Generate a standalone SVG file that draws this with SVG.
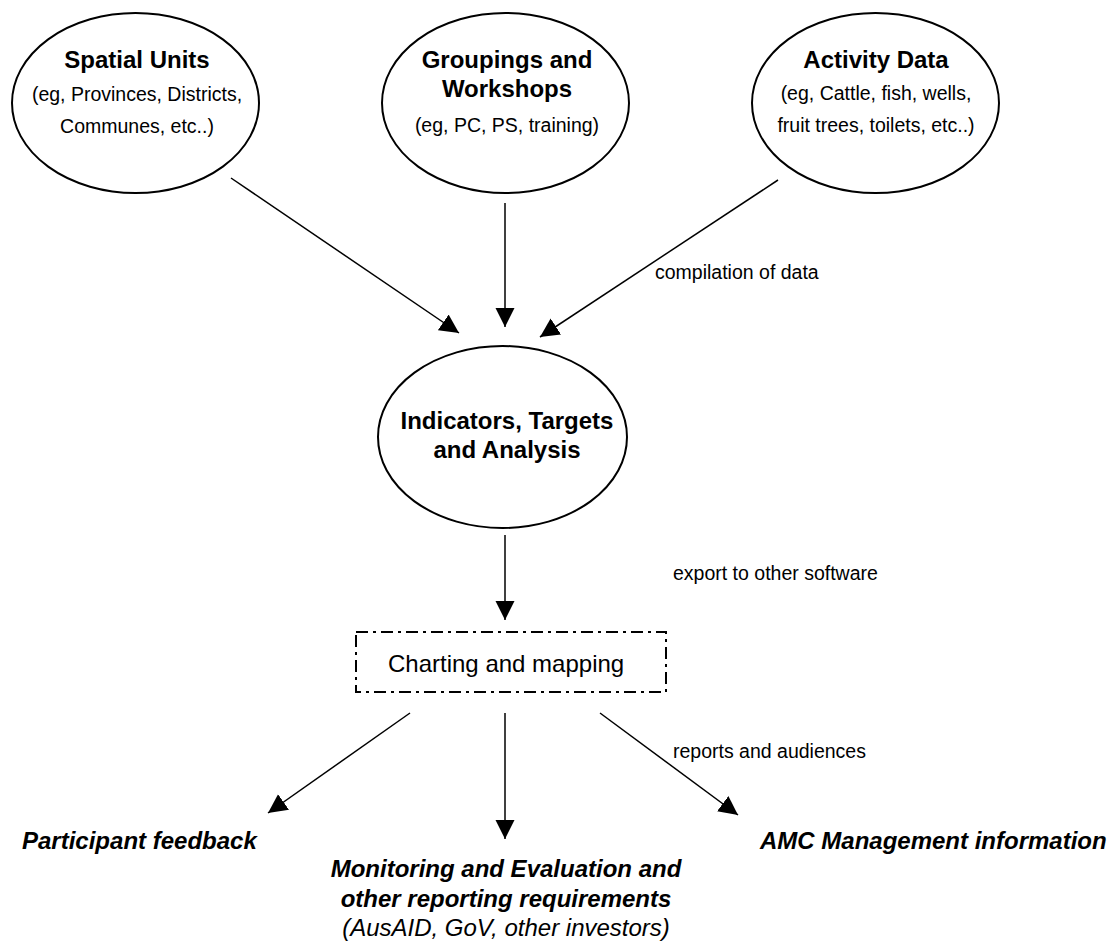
<svg xmlns="http://www.w3.org/2000/svg" width="1112" height="944" viewBox="0 0 1112 944">
<style>
text{font-family:"Liberation Sans",Arial,Helvetica,sans-serif;fill:#000}
.t{font-size:24px;font-weight:bold;text-anchor:middle}
.s{font-size:19.5px;text-anchor:middle}
.l{font-size:19.5px}
.o{font-size:24px;font-weight:bold;font-style:italic}
.oi{font-size:24px;font-style:italic;text-anchor:middle}
.e{fill:#fff;stroke:#000;stroke-width:2}
.c{stroke:#000;stroke-width:1.5;fill:none;marker-end:url(#ah)}
</style>
<defs>
<marker id="ah" markerUnits="userSpaceOnUse" markerWidth="20" markerHeight="20" refX="19" refY="9.5" orient="auto" viewBox="0 0 20 19">
<path d="M0,0 L19,9.5 L0,19 z" fill="#000"/>
</marker>
</defs>
<rect width="1112" height="944" fill="#fff"/>
<g id="connectors">
<line class="c" x1="231" y1="178" x2="459" y2="333"/>
<line class="c" x1="505" y1="203" x2="505" y2="327"/>
<line class="c" x1="778" y1="180" x2="540" y2="337"/>
<line class="c" x1="505" y1="535" x2="505" y2="620"/>
<line class="c" x1="410" y1="713" x2="268" y2="813"/>
<line class="c" x1="505" y1="713" x2="505" y2="839"/>
<line class="c" x1="600" y1="713" x2="738" y2="815"/>
<text class="l" x="655" y="279">compilation of data</text>
<text class="l" x="673" y="580">export to other software</text>
<text class="l" x="673" y="758">reports and audiences</text>
</g>
<g id="spatial">
<ellipse class="e" cx="135.5" cy="103" rx="123.5" ry="90"/>
<text class="t" x="137" y="68">Spatial Units</text>
<text class="s" x="137" y="101">(eg, Provinces, Districts,</text>
<text class="s" x="137" y="133">Communes, etc..)</text>
</g>
<g id="groupings">
<ellipse class="e" cx="505.5" cy="103" rx="123.5" ry="90"/>
<text class="t" x="507" y="68">Groupings and</text>
<text class="t" x="507" y="97">Workshops</text>
<text class="s" x="507" y="132">(eg, PC, PS, training)</text>
</g>
<g id="activity">
<ellipse class="e" cx="875.5" cy="103" rx="123.5" ry="90"/>
<text class="t" x="876" y="68">Activity Data</text>
<text class="s" x="876" y="100">(eg, Cattle, fish, wells,</text>
<text class="s" x="876" y="132">fruit trees, toilets, etc..)</text>
</g>
<g id="indicators">
<ellipse class="e" cx="502.5" cy="437" rx="124.5" ry="91"/>
<text class="t" x="507" y="429">Indicators, Targets</text>
<text class="t" x="507" y="458">and Analysis</text>
</g>
<g id="charting">
<rect x="356" y="632" width="310" height="60" fill="none" stroke="#000" stroke-width="2" stroke-dasharray="12 5 3 5"/>
<text x="388" y="672" style="font-size:24px">Charting and mapping</text>
</g>
<g id="participant">
<text class="o" x="22" y="849">Participant feedback</text>
</g>
<g id="monitoring">
<text class="o" x="506" y="877" text-anchor="middle">Monitoring and Evaluation and</text>
<text class="o" x="506" y="907" text-anchor="middle">other reporting requirements</text>
<text class="oi" x="506" y="936">(AusAID, GoV, other investors)</text>
</g>
<g id="amc">
<text class="o" x="760" y="849">AMC Management information</text>
</g>
</svg>
